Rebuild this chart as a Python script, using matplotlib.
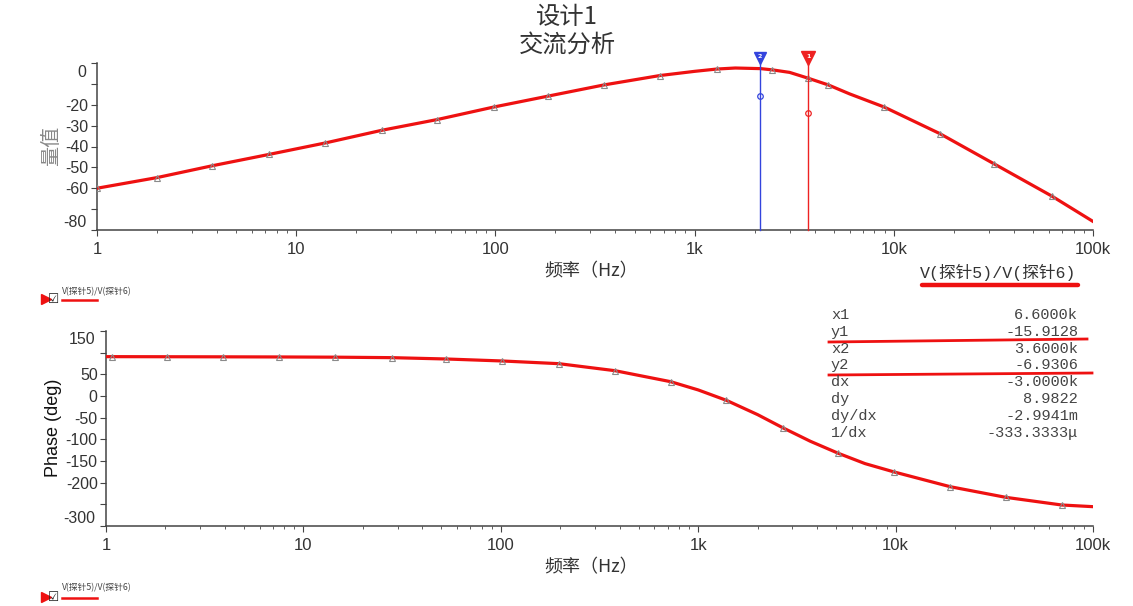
import matplotlib
matplotlib.use("Agg")
import matplotlib.pyplot as plt
from matplotlib.lines import Line2D
from matplotlib.ticker import FixedLocator, NullFormatter

# ── Data ─────────────────────────────────────────────────────
mag_freq = [1, 2.0, 3.8, 7.3, 14, 27, 51, 98, 183, 351, 670, 1000, 1290, 1600,
            2150, 2460, 3000, 3720, 4690, 6000, 8950, 17000, 32000, 62000, 100000]
mag_db = [-60.0, -54.9, -49.2, -43.8, -38.3, -32.2, -27.1, -21.1, -15.9, -10.5,
          -6.0, -4.0, -2.9, -2.4, -2.7, -3.3, -4.5, -7.3, -10.5, -14.8, -21.1,
          -33.8, -48.4, -63.7, -75.9]
mag_marks = [0, 1, 2, 3, 4, 5, 6, 7, 8, 9, 10, 12, 15, 17, 18, 20, 21, 22, 23]

ph_freq = [1, 1.07, 2.04, 3.9, 7.5, 14.5, 28, 53, 102, 197, 379, 726, 1000,
           1390, 2000, 2680, 3700, 5130, 7000, 9850, 18900, 36100, 69300, 100000]
ph_deg = [90.8, 90.8, 90.6, 90.4, 90.1, 89.6, 88.5, 85.4, 80.8, 74.6, 58.4,
          33.0, 14.0, -10.0, -43.0, -73.2, -104.5, -132.3, -156.0, -175.4,
          -209.3, -233.8, -251.5, -255.4]
ph_marks = [1, 2, 3, 4, 5, 6, 7, 8, 9, 10, 11, 13, 15, 17, 19, 20, 21, 22]

freq_ticks = [1, 10, 100, 1000, 10000, 100000]
freq_labels = ["1", "10", "100", "1k", "10k", "100k"]
mag_ticks = [0, -10, -20, -30, -40, -50, -60, -70, -80]
mag_labels = ["", "", "-20", "-30", "-40", "-50", "-60", "", ""]
ph_ticks = [150, 100, 50, 0, -50, -100, -150, -200, -250, -300]
ph_labels = ["", "", "50", "0", "-50", "-100", "-150", "-200", "", ""]

cursor_f = [2130, 3710]
cursor_y = [-16.0, -24.1]
cursor_c = ["#3344dd", "#ee2222"]
cursor_n = ["2", "1"]

table_keys = ["x1", "y1", "x2", "y2", "dx", "dy", "dy/dx", "1/dx"]
table_vals = ["6.6000k", "-15.9128", "3.6000k", "-6.9306", "-3.0000k",
              "8.9822", "-2.9941m", "-333.3333\u03bc"]

trace_name = "V(探针5)/V(探针6)"

# ── Style ────────────────────────────────────────────────────
RED = "#ee1111"
AXC = "#444444"
TXT = "#333333"
SANS = ["Liberation Sans", "Noto Sans CJK SC"]
CJK = ["Noto Sans CJK SC", "DejaVu Sans"]
MONO = ["Liberation Mono", "Noto Sans CJK SC"]

W, H = 1133, 606
fig = plt.figure(figsize=(W / 100, H / 100), dpi=100)
fig.patch.set_facecolor("white")


def fx(px):
    return px / W


def fy(py):
    return 1 - py / H


def ftext(px, py, s, **kw):
    fig.text(fx(px), fy(py), s, **kw)


def fline(xs, ys, **kw):
    fig.add_artist(Line2D([fx(v) for v in xs], [fy(v) for v in ys],
                          transform=fig.transFigure, **kw))


def style_axis(ax, yticks, ylabels):
    for s in ("top", "right"):
        ax.spines[s].set_visible(False)
    for s in ("left", "bottom"):
        ax.spines[s].set_color(AXC)
        ax.spines[s].set_linewidth(1.1)
    ax.set_xscale("log")
    ax.set_xlim(1, 100000)
    ax.xaxis.set_major_locator(FixedLocator(freq_ticks))
    ax.set_xticklabels(freq_labels, fontsize=12, color=TXT, family=SANS)
    ax.xaxis.set_minor_formatter(NullFormatter())
    ax.set_yticks(yticks)
    ax.set_yticklabels(ylabels, fontsize=11.5, color=TXT, family=SANS)
    ax.tick_params(which="major", length=4, color=AXC, pad=5)
    ax.tick_params(which="minor", length=2.5, color=AXC)
    ax.tick_params(axis="y", pad=2)


def end_label(ax, ypos, s):
    ax.text(-0.011, ypos, s, transform=ax.transAxes, ha="right", va="center",
            fontsize=11.5, color=TXT, family=SANS)


# ── Magnitude ────────────────────────────────────────────────
ax1 = fig.add_axes([fx(97), fy(230), fx(1093) - fx(97), fy(63) - fy(230)])
ax1.set_ylim(-80, 0)
style_axis(ax1, mag_ticks, mag_labels)
ax1.plot(mag_freq, mag_db, color=RED, lw=2.3, zorder=3)
ax1.plot([mag_freq[i] for i in mag_marks], [mag_db[i] for i in mag_marks],
         ls="none", marker="^", ms=4.5, mfc="none", mec="#8a8a8a", mew=0.8,
         zorder=4)
end_label(ax1, 0.945, "0")
end_label(ax1, 0.045, "-80")

for f, y, c, n in zip(cursor_f, cursor_y, cursor_c, cursor_n):
    ax1.plot([f, f], [-80, 0.5], color=c, lw=1.0, zorder=5, clip_on=False)
    ax1.plot([f], [y], ls="none", marker="o", ms=4, mfc="none", mec=c,
             mew=0.9, zorder=6)
    ms = 8 if n == "2" else 10
    ax1.plot([f], [2.2], ls="none", marker="v", ms=ms, color=c, zorder=7,
             clip_on=False)
    ax1.text(f, 2.9, n, ha="center", va="center", fontsize=4.5, color="white",
             fontweight="bold", zorder=8)

# ── Phase ────────────────────────────────────────────────────
ax2 = fig.add_axes([fx(106), fy(526), fx(1093) - fx(106), fy(331) - fy(526)])
ax2.set_ylim(-300, 150)
style_axis(ax2, ph_ticks, ph_labels)
ax2.plot(ph_freq, ph_deg, color=RED, lw=2.3, zorder=3)
ax2.plot([ph_freq[i] for i in ph_marks], [ph_deg[i] for i in ph_marks],
         ls="none", marker="^", ms=4.5, mfc="none", mec="#8a8a8a", mew=0.8,
         zorder=4)
end_label(ax2, 0.955, "150")
end_label(ax2, 0.04, "-300")

# ── Titles and axis labels ───────────────────────────────────
ftext(567, 17, "设计1", ha="center", va="center", fontsize=17.5, color=TXT,
      family=CJK)
ftext(567, 45, "交流分析", ha="center", va="center", fontsize=17.5,
      color=TXT, family=CJK)
ftext(52, 146, "量值", ha="center", va="center", rotation=90, fontsize=14.5,
      color="#888888", family=CJK)
ftext(54, 428, "Phase (deg)", ha="center", va="center", rotation=90,
      fontsize=13, color="#111111", family=SANS)
ftext(591, 271, "频率（Hz）", ha="center", va="center", fontsize=13,
      color=TXT, family=CJK)
ftext(591, 567, "频率（Hz）", ha="center", va="center", fontsize=13,
      color=TXT, family=CJK)

# trace name under top plot + hand-drawn underline
ftext(920, 272, trace_name, ha="left", va="center", fontsize=12,
      color=TXT, family=MONO)
fline([922, 1078], [285, 285], color=RED, lw=3.2, solid_capstyle="round")

# small legends bottom-left
for ty, ly in ((292, 299), (588, 597)):
    fline([46], [ly], ls="none", marker=">", ms=7, color=RED)
    ftext(48, ly, "\u2611", ha="left", va="center", fontsize=9,
          color="#222222", family=["DejaVu Sans"])
    ftext(62, ty, trace_name, ha="left", va="center", fontsize=6.3,
          color="#444444", family=CJK)
    fline([62, 97], [ly + 1, ly + 1], color=RED, lw=1.8)

# cursor table
for i, (k, v) in enumerate(zip(table_keys, table_vals)):
    yy = 315 + i * 16.8
    ftext(831, yy, k, ha="left", va="center", fontsize=11, color="#444444",
          family=MONO)
    ftext(1078, yy, v, ha="right", va="center", fontsize=11,
          color="#444444", family=MONO)
fline([829, 1087], [342, 339], color=RED, lw=2.0)
fline([829, 1092], [375, 373], color=RED, lw=2.0)

fig.savefig("out.png", dpi=100, facecolor="white")
